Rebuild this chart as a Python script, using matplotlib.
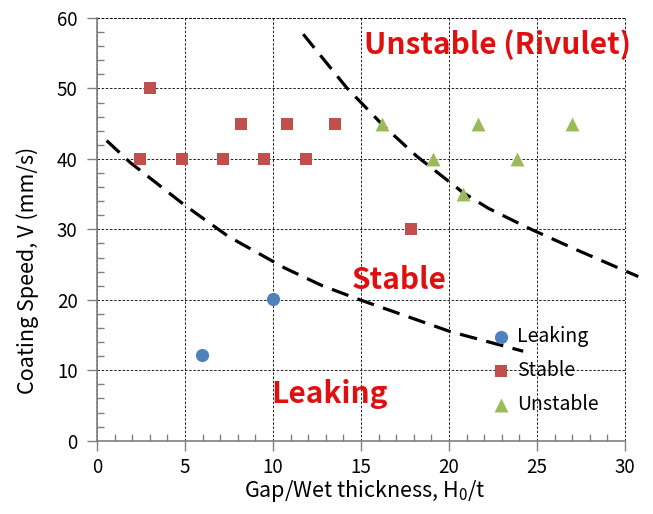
import numpy as np
import matplotlib
matplotlib.use('Agg')
import matplotlib.pyplot as plt
from matplotlib.ticker import MultipleLocator

#1. Data
leak_x = [5.95, 9.98]
leak_y = [12.2, 20.1]

stable_x = [2.43, 3.01, 4.81, 7.18, 8.16, 9.5, 10.81, 11.88, 13.52, 17.84]
stable_y = [40, 50, 40, 40, 45, 40, 45, 40, 45, 30]

unstable_x = [16.17, 19.1, 20.8, 21.67, 23.85, 27.0]
unstable_y = [45, 40, 35, 45, 40, 45]

# boundary lines (points picked off the dashed curves)
low_x = [0.55, 1.88, 5.0, 7.46, 10.68, 12.8, 14.94, 20.06, 24.22]
low_y = [42.6, 39.5, 33.4, 29.0, 24.5, 22.0, 20.0, 15.5, 12.7]
up_x = [11.72, 14.19, 16.28, 18.16, 20.81, 22.23, 24.5, 27.25, 30.76]
up_y = [57.7, 50.1, 44.7, 40.4, 35.2, 33.0, 30.2, 27.1, 23.3]

plt.rcParams['font.family'] = ['Noto Sans CJK KR', 'DejaVu Sans']

#2. Figure
fig = plt.figure(figsize=(6.53, 5.14), dpi=100)
ax = fig.add_axes([0.1485, 0.1426, 0.8085, 0.8224])

ax.plot(low_x, low_y, color='black', lw=2.3, dashes=(5.5, 3), clip_on=False, zorder=2)
ax.plot(up_x, up_y, color='black', lw=2.3, dashes=(5.5, 3), clip_on=False, zorder=2)

ax.scatter(leak_x, leak_y, marker='o', s=90, color='#4F81BD', label='Leaking', zorder=3, linewidths=0)
ax.scatter(stable_x, stable_y, marker='s', s=76, color='#C0504D', label='Stable', zorder=3, linewidths=0)
ax.scatter(unstable_x, unstable_y, marker='^', s=100, color='#9BBB59', label='Unstable', zorder=3, linewidths=0)

#3. Axes styling
ax.set_xlim(0, 30)
ax.set_ylim(0, 60)
ax.xaxis.set_major_locator(MultipleLocator(5))
ax.xaxis.set_minor_locator(MultipleLocator(1))
ax.yaxis.set_major_locator(MultipleLocator(10))
ax.yaxis.set_minor_locator(MultipleLocator(2))
ax.tick_params(which='major', direction='out', length=7, width=1, color='#808080', labelsize=13.5, pad=7)
ax.tick_params(axis='x', which='major', pad=5)
ax.tick_params(which='minor', direction='in', length=5, width=1, color='#808080')

for s in ['top', 'right']:
    ax.spines[s].set_visible(False)
for s in ['left', 'bottom']:
    ax.spines[s].set_color('#808080')
    ax.spines[s].set_linewidth(1.2)

ax.grid(True, which='major', color='black', lw=0.6, ls=(0, (3, 2)))
ax.set_axisbelow(True)
# dashed border at x=30 / y=60
ax.axhline(60, color='black', lw=0.6, ls=(0, (3, 2)), clip_on=False)
ax.axvline(30, color='black', lw=0.6, ls=(0, (3, 2)), clip_on=False)

ax.set_xlabel('Gap/Wet thickness, H$_\\mathregular{0}$/t', fontsize=15.5, labelpad=0)
ax.xaxis.label.set_x(0.508)
ax.set_ylabel('Coating Speed, V (mm/s)', fontsize=15.5)
ax.yaxis.set_label_coords(-0.109, 0.404)

#4. Region labels
red = '#E01010'
ax.text(22.78, 54.9, 'Unstable (Rivulet)', color=red, fontsize=21.5, fontweight='bold', ha='center', va='baseline')
ax.text(17.16, 21.6, 'Stable', color=red, fontsize=21.5, fontweight='bold', ha='center', va='baseline')
ax.text(13.24, 5.4, 'Leaking', color=red, fontsize=21.5, fontweight='bold', ha='center', va='baseline')

leg = ax.legend(loc='lower left', bbox_to_anchor=(0.747, 0.061), frameon=False, fontsize=14,
                handlelength=1, handletextpad=0.3, labelspacing=0.66, borderaxespad=0, borderpad=0)

fig.savefig('out.png', dpi=100)
